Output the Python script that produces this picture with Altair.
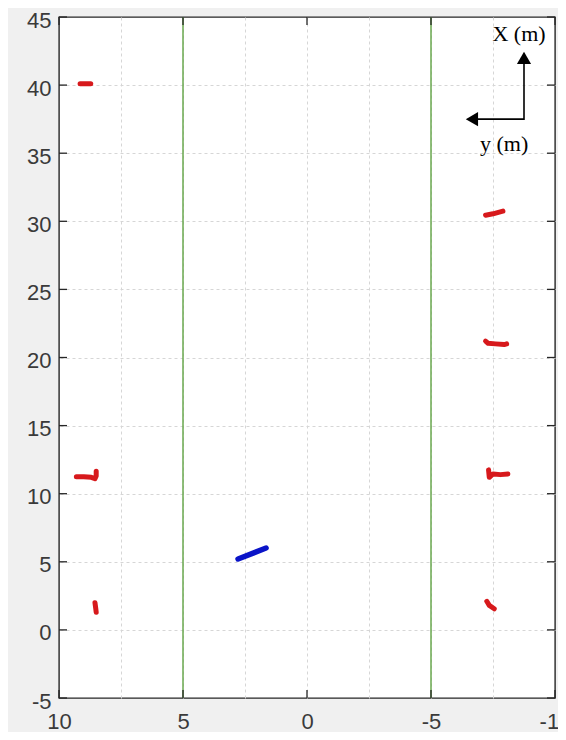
import altair as alt
import pandas as pd

# ---- data ----
x_ticks = [10, 5, 0, -5, -10]
y_ticks = [-5, 0, 5, 10, 15, 20, 25, 30, 35, 40, 45]
x_grid = [10, 8.75, 7.5, 6.25, 5, 3.75, 2.5, 1.25, 0, -1.25, -2.5, -3.75, -5, -6.25, -7.5, -8.75, -10]
y_grid = [-5, -2.5, 0, 2.5, 5, 7.5, 10, 12.5, 15, 17.5, 20, 22.5, 25, 27.5, 30, 32.5, 35, 37.5, 40, 42.5, 45]

lane_x = [5, -5]

red_id = [1, 1, 1,
          2, 2, 2,
          3, 3, 3, 3, 3,
          4, 4, 4, 4, 4,
          5, 5, 5, 5, 5, 5,
          6, 6, 6,
          7, 7, 7]
red_x = [9.15, 8.95, 8.72,
         -7.2, -7.5, -7.9,
         -7.2, -7.3, -7.6, -7.95, -8.05,
         -7.32, -7.35, -7.5, -7.8, -8.1,
         9.3, 9.0, 8.7, 8.55, 8.5, 8.5,
         8.55, 8.52, 8.5,
         -7.25, -7.35, -7.55]
red_y = [40.1, 40.1, 40.1,
         30.45, 30.55, 30.75,
         21.2, 21.05, 21.0, 20.95, 21.0,
         11.75, 11.2, 11.45, 11.4, 11.45,
         11.25, 11.25, 11.2, 11.1, 11.3, 11.65,
         2.0, 1.6, 1.3,
         2.1, 1.8, 1.55]

blue_x = [2.78, 1.65]
blue_y = [5.21, 6.01]

# annotation (axis-direction arrows)
arrow_corner = (-8.75, 37.5)
arrow_up_tip = (-8.75, 42.0)
arrow_left_tip = (-6.65, 37.5)
label_X = ("X (m)", -8.55, 43.75)
label_y = ("y (m)", -7.95, 35.7)

W, H = 496, 681
TICK = 8

xs = alt.Scale(domain=[-10, 10], reverse=True, nice=False, zero=False)
ys = alt.Scale(domain=[-5, 45], nice=False, zero=False)

label_expr = "datum.value % 5 == 0 ? '' + datum.value : ''"
grid_col = "#d6d6d6"

x_axis = alt.Axis(values=x_grid, grid=True, gridDash=[3, 3],
                  gridColor={"condition": {"test": "abs(datum.value) == 10", "value": "transparent"}, "value": grid_col},
                  gridWidth=1, ticks=False, domain=False, labelFont="Liberation Sans",
                  labelFontSize=22, labelColor="#3a3a3a", labelPadding=13,
                  labelExpr=label_expr, title=None, labelFlush=False, labelOverlap=False)
y_axis = alt.Axis(values=y_grid, grid=True, gridDash=[3, 3],
                  gridColor={"condition": {"test": "datum.value == -5 || datum.value == 45", "value": "transparent"}, "value": grid_col},
                  gridWidth=1, ticks=False, domain=False, labelFont="Liberation Sans",
                  labelFontSize=22, labelColor="#3a3a3a", labelPadding=8, labelOffset=3,
                  labelExpr=label_expr, title=None, labelFlush=False, labelOverlap=False)

base = alt.Chart(pd.DataFrame({"x": [0], "y": [0]})).mark_point(opacity=0).encode(
    x=alt.X("x:Q", scale=xs, axis=x_axis),
    y=alt.Y("y:Q", scale=ys, axis=y_axis),
)

lanes = alt.Chart(pd.DataFrame({"x": lane_x})).mark_rule(color="#6aa84f", strokeWidth=1.5).encode(
    x=alt.X("x:Q", scale=xs)
)

red = alt.Chart(pd.DataFrame({"id": red_id, "x": red_x, "y": red_y, "o": list(range(len(red_x)))})).mark_line(
    color="#d7191c", strokeWidth=5, strokeCap="round", strokeJoin="round"
).encode(
    x=alt.X("x:Q", scale=xs), y=alt.Y("y:Q", scale=ys), detail="id:N", order="o:Q"
)

blue = alt.Chart(pd.DataFrame({"x": blue_x, "y": blue_y, "o": [0, 1]})).mark_line(
    color="#0a14c8", strokeWidth=5.5, strokeCap="round"
).encode(x=alt.X("x:Q", scale=xs), y=alt.Y("y:Q", scale=ys), order="o:Q")

# inward major ticks on all four sides
xt_df = pd.DataFrame({"x": x_ticks})
yt_df = pd.DataFrame({"y": y_ticks})
tick_style = dict(color="#262626", strokeWidth=1.3)
bt = alt.Chart(xt_df).mark_rule(**tick_style).encode(
    x=alt.X("x:Q", scale=xs), y=alt.value(H), y2=alt.value(H - TICK))
tt = alt.Chart(xt_df).mark_rule(**tick_style).encode(
    x=alt.X("x:Q", scale=xs), y=alt.value(0), y2=alt.value(TICK))
lt = alt.Chart(yt_df).mark_rule(**tick_style).encode(
    y=alt.Y("y:Q", scale=ys), x=alt.value(0), x2=alt.value(TICK))
rt = alt.Chart(yt_df).mark_rule(**tick_style).encode(
    y=alt.Y("y:Q", scale=ys), x=alt.value(W - TICK), x2=alt.value(W))

arrow_lines = alt.Chart(pd.DataFrame({
    "x": [arrow_up_tip[0], arrow_corner[0], arrow_left_tip[0]],
    "y": [arrow_up_tip[1], arrow_corner[1], arrow_left_tip[1]],
    "o": [0, 1, 2],
})).mark_line(color="black", strokeWidth=1.6).encode(
    x=alt.X("x:Q", scale=xs), y=alt.Y("y:Q", scale=ys), order="o:Q"
)
head_up = alt.Chart(pd.DataFrame({"x": [arrow_up_tip[0]], "y": [arrow_up_tip[1]]})).mark_point(
    shape="triangle-up", filled=True, color="black", size=200, opacity=1
).encode(x=alt.X("x:Q", scale=xs), y=alt.Y("y:Q", scale=ys))
head_left = alt.Chart(pd.DataFrame({"x": [arrow_left_tip[0]], "y": [arrow_left_tip[1]]})).mark_point(
    shape="triangle-left", filled=True, color="black", size=200, opacity=1
).encode(x=alt.X("x:Q", scale=xs), y=alt.Y("y:Q", scale=ys))

labels = alt.Chart(pd.DataFrame({
    "t": [label_X[0], label_y[0]],
    "x": [label_X[1], label_y[1]],
    "y": [label_X[2], label_y[2]],
})).mark_text(font="Liberation Serif", fontSize=22, color="black", align="center", baseline="middle").encode(
    x=alt.X("x:Q", scale=xs), y=alt.Y("y:Q", scale=ys), text="t:N"
)

chart = alt.layer(
    base, lanes, red, blue, bt, tt, lt, rt, arrow_lines, head_up, head_left, labels
).properties(
    width=W, height=H,
    autosize=alt.AutoSizeParams(type="none"),
    padding={"left": 51, "top": 9, "right": 3, "bottom": 34},
    background="#f0f0f0",
).configure_view(
    fill="white", stroke="#262626", strokeWidth=1.4
)

chart.save("out.html", embed_options={"renderer": "svg", "actions": False})
